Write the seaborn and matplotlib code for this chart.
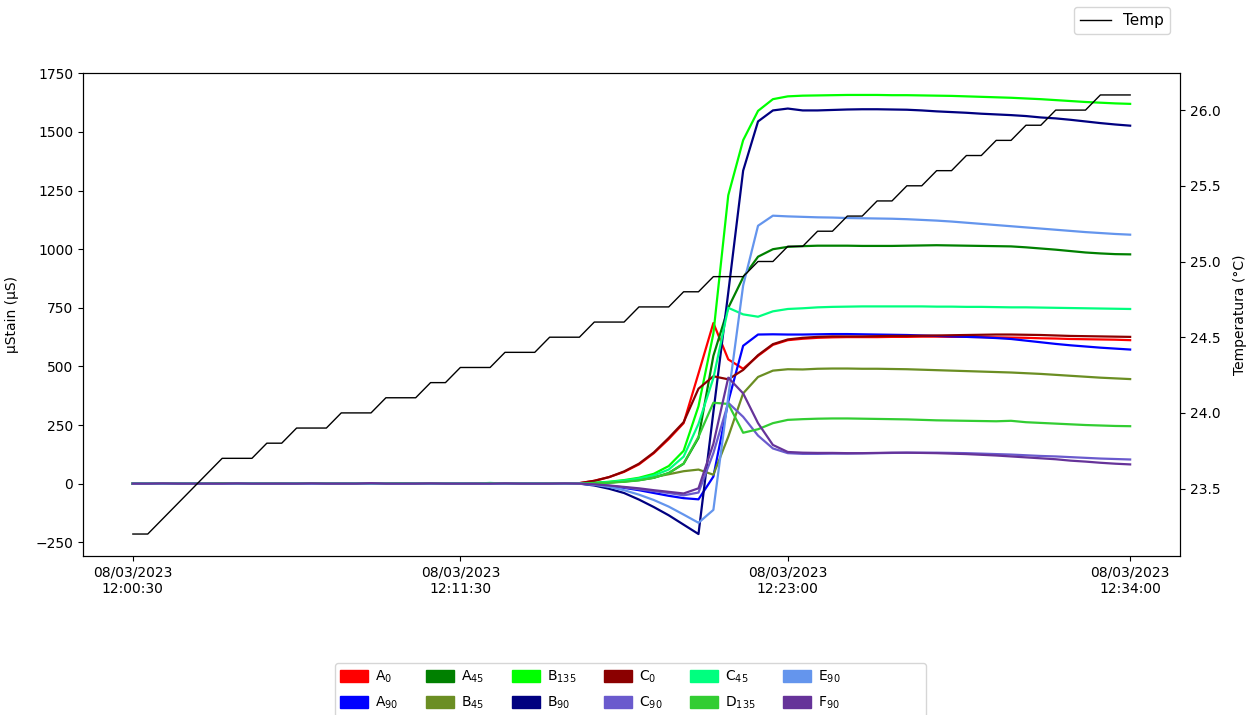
import numpy as np
import pandas as pd
import matplotlib
matplotlib.use("Agg")
import matplotlib.pyplot as plt
import matplotlib.patches as mpatches
import seaborn as sns

# sample index (one reading per step) and tick labels
idx = list(range(68))
tick_pos = [0, 22, 44, 67]
tick_labels = ["08/03/2023\n12:00:30", "08/03/2023\n12:11:30",
               "08/03/2023\n12:23:00", "08/03/2023\n12:34:00"]

temp = [23.2, 23.2, 23.3, 23.4, 23.5, 23.6, 23.7, 23.7, 23.7, 23.8,
        23.8, 23.9, 23.9, 23.9, 24.0, 24.0, 24.0, 24.1, 24.1, 24.1,
        24.2, 24.2, 24.3, 24.3, 24.3, 24.4, 24.4, 24.4, 24.5, 24.5,
        24.5, 24.6, 24.6, 24.6, 24.7, 24.7, 24.7, 24.8, 24.8, 24.9,
        24.9, 24.9, 25.0, 25.0, 25.1, 25.1, 25.2, 25.2, 25.3, 25.3,
        25.4, 25.4, 25.5, 25.5, 25.6, 25.6, 25.7, 25.7, 25.8, 25.8,
        25.9, 25.9, 26.0, 26.0, 26.0, 26.1, 26.1, 26.1]

A0 = [0, 0, 0, 1, 0, 0, 1, 0, 0, 1, 0, 0, 0, 1, 0, 0, 1, 0, 0, 1,
      0, 0, 1, 0, 0, 1, 0, 1, 1, 2,
      2, 12, 28, 50, 82, 130, 190, 258, 470, 685, 530, 490, 545, 592, 612, 618,
      622, 624, 625, 625, 625, 626, 626, 627, 627, 626, 626, 625, 624, 623,
      622, 620, 619, 617, 616, 615, 614, 612]
A90 = [0, 0, 0, 0, -1, 0, 0, 0, -1, 0, 0, 0, 0, -1, 0, 0, 0, 0, -1, 0,
       0, 0, 0, -1, 0, 0, 0, 0, -1, 0,
       0, -4, -10, -18, -28, -40, -52, -62, -67, 30, 350, 588, 636, 637, 636, 636,
       637, 638, 638, 637, 636, 635, 634, 632, 630, 628, 626, 624, 621, 617,
       610, 603, 596, 590, 585, 580, 576, 572]
A45 = [0, 0, 1, 0, 0, 1, 0, 0, 0, 1, 0, 0, 1, 0, 0, 0, 1, 0, 0, 0,
       1, 0, 0, 0, 1, 0, 0, 1, 0, 1,
       0, 2, 5, 9, 15, 25, 45, 85, 195, 545, 750, 880, 968, 1000, 1010, 1013,
       1015, 1015, 1015, 1014, 1014, 1014, 1015, 1016, 1017, 1016, 1015, 1014,
       1013, 1012, 1008, 1003, 998, 992, 986, 982, 979, 978]
B45 = [0, 1, 0, 0, 0, 1, 0, 0, 1, 0, 0, 0, 1, 0, 0, 1, 0, 0, 0, 1,
       0, 0, 1, 0, 0, 0, 1, 0, 1, 0,
       0, 2, 5, 10, 18, 28, 40, 53, 60, 38, 200, 385, 455, 482, 488, 487,
       490, 491, 491, 490, 490, 489, 488, 486, 484, 482, 480, 478, 476, 474,
       471, 468, 464, 460, 456, 452, 449, 446]
B135 = [0, 0, 1, 0, 1, 0, 0, 1, 0, 0, 1, 0, 0, 1, 0, 0, 1, 0, 1, 0,
        0, 1, 0, 0, 1, 0, 2, 0, 1, 1,
        0, 3, 8, 15, 25, 42, 75, 140, 330, 640, 1230, 1465, 1590, 1640, 1652,
        1655, 1656, 1657, 1658, 1658, 1658, 1657, 1657, 1656, 1655, 1654, 1652,
        1650, 1648, 1646, 1643, 1640, 1636, 1632, 1628, 1625, 1622, 1620]
B90 = [0, 0, 0, -1, 0, 0, 0, 0, -1, 0, 0, 0, -1, 0, 0, 0, 0, -1, 0, 0,
       0, -1, 0, 0, 0, 0, -1, 0, 0, 0,
       0, -8, -22, -40, -68, -100, -135, -175, -215, 305, 815, 1335, 1545, 1592,
       1600, 1592, 1592, 1594, 1596, 1597, 1597, 1596, 1595, 1592, 1588, 1585,
       1582, 1578, 1575, 1572, 1568, 1562, 1558, 1552, 1545, 1538, 1532, 1527]
C0 = [0, 0, 1, 0, 0, 0, 1, 0, 0, 0, 1, 0, 0, 0, 0, 1, 0, 0, 0, 1,
      0, 0, 0, 1, 0, 0, 1, 0, 1, 2,
      2, 12, 28, 52, 85, 133, 195, 262, 405, 458, 445, 485, 548, 595, 615, 622,
      626, 628, 628, 628, 629, 630, 630, 631, 632, 633, 634, 635, 636, 636,
      635, 634, 632, 630, 629, 628, 627, 626]
C90 = [0, 0, 0, 0, 0, -1, 0, 0, 0, 0, -1, 0, 0, 0, 0, -1, 0, 0, 0, 0,
       -1, 0, 0, 0, 0, -1, 0, 0, 0, -1,
       0, -3, -9, -16, -24, -32, -40, -50, -38, 130, 345, 285, 205, 150, 130, 127,
       127, 128, 128, 129, 130, 131, 132, 132, 132, 131, 130, 128, 126, 124,
       121, 118, 116, 113, 110, 107, 105, 103]
C45 = [0, 1, 0, 0, 1, 0, 0, 0, 1, 0, 0, 1, 0, 0, 0, 1, 0, 0, 1, 0,
       0, 0, 1, 0, 3, 0, 0, 1, 0, 1,
       0, 3, 7, 13, 22, 35, 60, 115, 255, 450, 750, 722, 712, 735, 745, 748,
       752, 754, 755, 756, 756, 756, 756, 756, 755, 755, 754, 754, 753, 752,
       752, 751, 750, 749, 748, 747, 746, 745]
D135 = [0, 0, 1, 0, 0, 0, 1, 0, 0, 1, 0, 0, 0, 1, 0, 0, 0, 1, 0, 0,
        1, 0, 0, 0, 1, 0, 0, 0, 1, 0,
        0, 2, 4, 8, 14, 25, 45, 85, 200, 345, 340, 217, 232, 258, 272, 275,
        277, 278, 278, 277, 276, 275, 274, 272, 270, 269, 268, 267, 266, 268,
        262, 259, 256, 253, 250, 248, 246, 245]
E90 = [0, 0, 0, 0, 0, 0, -1, 0, 0, 0, 0, 0, -1, 0, 0, 0, 0, 0, -1, 0,
       0, 0, 0, 0, -1, 0, 0, 0, 0, 0,
       0, -5, -14, -28, -47, -70, -98, -132, -167, -112, 370, 845, 1100, 1143,
       1140, 1138, 1136, 1135, 1133, 1132, 1131, 1130, 1128, 1125, 1122, 1118,
       1113, 1108, 1103, 1098, 1093, 1088, 1083, 1078, 1073, 1069, 1065, 1062]
F90 = [0, 0, 1, 0, 0, 0, 0, 1, 0, 0, 0, 0, 1, 0, 0, 0, 2, 0, 0, 0,
       1, 0, 0, 0, 0, 1, 0, 0, 0, 1,
       0, -3, -8, -14, -20, -28, -35, -42, -20, 170, 452, 385, 258, 165, 135, 132,
       131, 131, 130, 130, 131, 132, 132, 131, 130, 128, 126, 123, 120, 116,
       112, 108, 104, 98, 94, 89, 85, 82]

series = {"A0": A0, "A90": A90, "A45": A45, "B45": B45, "B135": B135,
          "B90": B90, "C0": C0, "C90": C90, "C45": C45, "D135": D135,
          "E90": E90, "F90": F90}
colors = {"A0": "red", "A90": "blue", "A45": "green", "B45": "olivedrab",
          "B135": "lime", "B90": "navy", "C0": "darkred", "C90": "slateblue",
          "C45": "springgreen", "D135": "limegreen", "E90": "cornflowerblue",
          "F90": "rebeccapurple"}
order = list(series.keys())

df = pd.DataFrame([(i, name, v) for name, vals in series.items()
                   for i, v in zip(idx, vals)],
                  columns=["idx", "sensor", "strain"])

fig = plt.figure(figsize=(12.52, 7.15), dpi=100)
ax = fig.add_axes([0.0663, 0.2224, 0.8762, 0.6755])

sns.lineplot(data=df, x="idx", y="strain", hue="sensor", hue_order=order,
             palette=colors, linewidth=1.6, legend=False, ax=ax)
ax.set_xlabel("")
ax.set_ylabel("µStain (µS)", labelpad=12)
ax.set_yticks([-250, 0, 250, 500, 750, 1000, 1250, 1500, 1750])
ax.set_xticks(tick_pos)
ax.set_xticklabels(tick_labels)

ax2 = ax.twinx()
sns.lineplot(x=idx, y=temp, color="black", linewidth=1, ax=ax2, label="Temp",
             legend=False)
ax2.set_ylabel("Temperatura (°C)", labelpad=9)
ax2.set_yticks([23.5, 24.0, 24.5, 25.0, 25.5, 26.0])

temp_line = ax2.get_lines()[0]
fig.legend([temp_line], ["Temp"], loc="upper right", fontsize=11,
           bbox_to_anchor=(0.9345, 0.990), borderaxespad=0)

handles = [mpatches.Patch(color=colors[n]) for n in order]
labels = [n[0] + "$_{" + n[1:] + "}$" for n in order]
# the original box leaves a wide blank margin after the last column
labels[-2] += " " * 19
labels[-1] += " " * 19
fig.legend(handles, labels, loc="upper center", ncol=6,
           bbox_to_anchor=(0.5036, 0.0727), borderaxespad=0, handleheight=0.9,
           handletextpad=0.5, labelspacing=0.7)

fig.savefig("out.png", dpi=100)
